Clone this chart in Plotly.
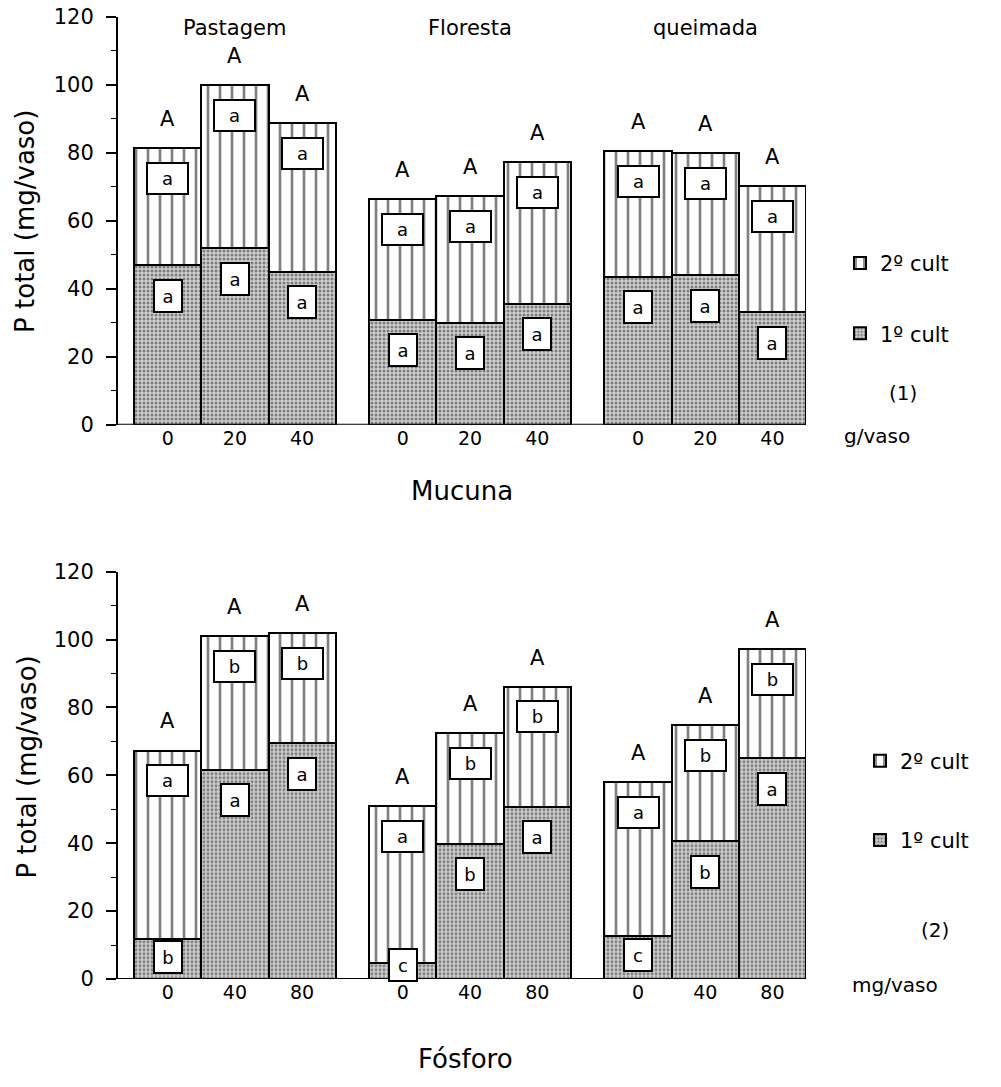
import plotly.graph_objects as go

# ---------------- data ----------------
groups_top = ["Pastagem", "Floresta", "queimada"]
doses_top = ["0", "20", "40"]
first_top = [46.9, 52.0, 45.1, 30.9, 30.1, 35.6, 43.6, 44.1, 33.1]
total_top = [81.5, 100.0, 88.9, 66.5, 67.4, 77.4, 80.7, 79.9, 70.4]
let1_top = ["a", "a", "a", "a", "a", "a", "a", "a", "a"]
let2_top = ["a", "a", "a", "a", "a", "a", "a", "a", "a"]
letT_top = ["A", "A", "A", "A", "A", "A", "A", "A", "A"]

doses_bot = ["0", "40", "80"]
first_bot = [11.8, 61.7, 69.5, 4.8, 39.9, 50.9, 12.8, 40.6, 65.1]
total_bot = [67.4, 101.1, 101.9, 51.1, 72.5, 86.2, 58.2, 74.9, 97.2]
let1_bot = ["b", "a", "a", "c", "b", "a", "c", "b", "a"]
let2_bot = ["a", "b", "b", "a", "b", "b", "a", "b", "b"]
letT_bot = ["A", "A", "A", "A", "A", "A", "A", "A", "A"]

yticks = [0, 20, 40, 60, 80, 100, 120]

# ---------------- layout helpers ----------------
FONT = "DejaVu Sans"
W, H = 1001, 1087
L_PAGE, R_PAGE, T_PAGE, B_PAGE = 118, 806, 17, 979.5
ML, MR, MT, MB = L_PAGE, W - R_PAGE, T_PAGE, H - B_PAGE
PH = H - MT - MB
PW = W - ML - MR


def py(p):
    return (B_PAGE - p) / PH


def px(p):
    return (p - L_PAGE) / PW


def positions(n_groups, n_doses):
    xs = []
    for g in range(n_groups):
        for d in range(n_doses):
            xs.append(g * (n_doses + 0.5) + d)
    return xs


xs = positions(3, 3)

fig = go.Figure()

pat2 = dict(shape="|", fgcolor="black", bgcolor="white", size=12, solidity=0.22)
pat1 = dict(shape=".", fgcolor="#2a2a2a", bgcolor="#cfcfcf", size=4, solidity=0.45)


def add_panel(first, total, xa, ya, legend):
    second = [t - f for t, f in zip(total, first)]
    fig.add_trace(go.Bar(x=xs, y=first, width=1, name="1º cult", xaxis=xa, yaxis=ya,
                         marker=dict(color="#cfcfcf", pattern=pat1, line=dict(color="black", width=2)),
                         legend=legend, legendgroup="g1" + legend, legendrank=2, showlegend=True))
    fig.add_trace(go.Bar(x=xs, y=second, width=1, name="2º cult", xaxis=xa, yaxis=ya,
                         marker=dict(color="white", pattern=pat2, line=dict(color="black", width=2)),
                         legend=legend, legendgroup="g2" + legend, legendrank=1, showlegend=True))


add_panel(first_top, total_top, "x", "y", "legend")
add_panel(first_bot, total_bot, "x2", "y2", "legend2")

ann = []


def add_letters(first, total, l1, l2, lt, xr, yr):
    for x, f, t, a1, a2, at in zip(xs, first, total, l1, l2, lt):
        y1 = f - 9 if f > 25 else max(f * 0.55, 4.2)
        ann.append(dict(x=x, y=y1, xref=xr, yref=yr, text=a1, showarrow=False,
                        xanchor="center", yanchor="middle",
                        font=dict(family=FONT, size=18, color="black"),
                        bgcolor="white", bordercolor="black", borderwidth=2,
                        width=24, height=28, borderpad=1))
        ann.append(dict(x=x, y=t - 9, xref=xr, yref=yr, text=a2, showarrow=False,
                        xanchor="center", yanchor="middle",
                        font=dict(family=FONT, size=18, color="black"),
                        bgcolor="white", bordercolor="black", borderwidth=2,
                        width=37, height=27, borderpad=1))
        ann.append(dict(x=x, y=t + 8.5, xref=xr, yref=yr, text=at, showarrow=False,
                        xanchor="center", yanchor="middle",
                        font=dict(family=FONT, size=21, color="black")))


add_letters(first_top, total_top, let1_top, let2_top, letT_top, "x", "y")
add_letters(first_bot, total_bot, let1_bot, let2_bot, letT_bot, "x2", "y2")

# group labels (top panel)
for g, name in enumerate(groups_top):
    ann.append(dict(x=g * 3.5 + 1, y=py(28), xref="x", yref="paper", text=name, showarrow=False,
                    xanchor="center", yanchor="middle",
                    font=dict(family=FONT, size=21, color="black")))


def paper_text(x, y, text, size, angle=0):
    return dict(x=px(x), y=py(y), xref="paper", yref="paper", text=text, showarrow=False,
                xanchor="center", yanchor="middle", textangle=angle,
                font=dict(family=FONT, size=size, color="black"))


ann += [
    paper_text(877, 436, "g/vaso", 20),
    paper_text(895, 986, "mg/vaso", 20),
    paper_text(462, 491, "Mucuna", 26),
    paper_text(465, 1060, "Fósforo", 26),
    paper_text(25, 222, "P total (mg/vaso)", 26, -90),
    paper_text(27, 767, "P total (mg/vaso)", 26, -90),
    paper_text(903, 393, "(1)", 20),
    paper_text(935, 930, "(2)", 20),
]

xaxis_common = dict(range=[-0.74, 9.5], showgrid=False, zeroline=False, showline=False,
                    ticks="", tickvals=xs, tickfont=dict(family=FONT, size=19, color="black"),
                    automargin=False)
yaxis_common = dict(range=[0, 120], tickvals=yticks, showgrid=False, zeroline=False,
                    showline=True, linecolor="black", linewidth=2, ticks="outside",
                    ticklen=10, tickwidth=2, tickcolor="black", automargin=False,
                    ticklabelstandoff=8, ticklabeloverflow="allow",
                    minor=dict(dtick=10, ticks="outside", ticklen=5, tickwidth=1, tickcolor="black"),
                    tickfont=dict(family=FONT, size=21, color="black"))

legend_common = dict(font=dict(family=FONT, size=21, color="black"), traceorder="grouped",
                     bgcolor="rgba(0,0,0,0)", xanchor="left", yanchor="top")

fig.update_layout(
    width=W, height=H,
    margin=dict(l=ML, r=MR, t=MT, b=MB, autoexpand=False),
    paper_bgcolor="white", plot_bgcolor="white",
    barmode="stack", bargap=0,
    xaxis=dict(domain=[0, 1], anchor="y", ticktext=doses_top * 3, **xaxis_common),
    yaxis=dict(domain=[py(425), py(17)], anchor="x", **yaxis_common),
    xaxis2=dict(domain=[0, 1], anchor="y2", ticktext=doses_bot * 3, **xaxis_common),
    yaxis2=dict(domain=[py(979.5), py(572)], anchor="x2", **yaxis_common),
    legend=dict(x=px(840), y=py(243), tracegroupgap=40, **legend_common),
    legend2=dict(x=px(860), y=py(741), tracegroupgap=49, **legend_common),
    annotations=ann,
    showlegend=True,
)

# x axis baselines at y=0
fig.add_shape(type="line", xref="x", yref="y", x0=-0.74, x1=9.5, y0=0, y1=0,
              line=dict(color="black", width=2))
fig.add_shape(type="line", xref="x2", yref="y2", x0=-0.74, x1=9.5, y0=0, y1=0,
              line=dict(color="black", width=2))

fig.write_html("out.html", config={"displayModeBar": False},
               post_script="document.body.style.margin='0px';")
